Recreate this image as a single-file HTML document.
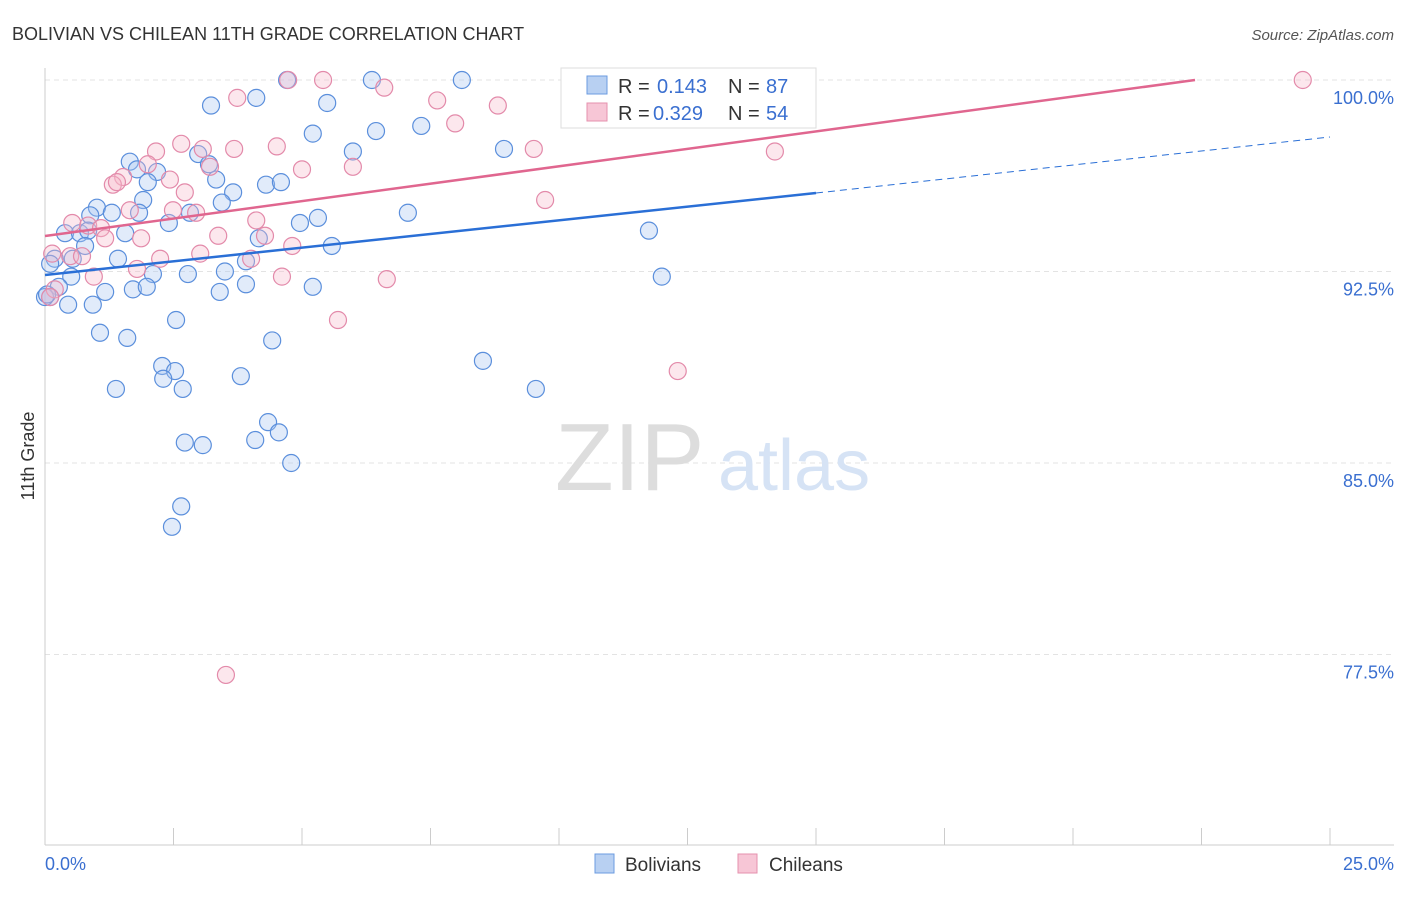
<!DOCTYPE html>
<html><head><meta charset="utf-8"><style>
body{margin:0;background:#fff;font-family:"Liberation Sans",sans-serif;}
svg text{font-family:"Liberation Sans",sans-serif;}
</style></head><body>
<svg id="chart" width="1406" height="892" xmlns="http://www.w3.org/2000/svg">
<text x="12" y="40" font-size="18" fill="#333">BOLIVIAN VS CHILEAN 11TH GRADE CORRELATION CHART</text>
<text x="1394" y="40" font-size="15" fill="#555" font-style="italic" text-anchor="end">Source: ZipAtlas.com</text>
<g id="grid"></g>
<g id="axes"></g>
<text x="555" y="490" font-size="96" fill="#ddd" font-family="Liberation Serif">ZIP</text>
<text x="718" y="490" font-size="72" fill="#d6e3f5">atlas</text>
<g id="pts"></g>
<g id="trends"></g>
<text transform="translate(34,456) rotate(-90)" font-size="18" fill="#333" text-anchor="middle">11th Grade</text>
<text x="45" y="870" font-size="18" fill="#3a6fd0">0.0%</text>
<text x="1394" y="870" font-size="18" fill="#3a6fd0" text-anchor="end">25.0%</text>
<g>
<rect x="561" y="68" width="255" height="60" fill="#fff" stroke="#ddd"/>
<rect x="587" y="76" width="20" height="18" fill="#b8d0f2" stroke="#6b9be0"/>
<text x="618" y="93" font-size="20" fill="#333">R =</text>
<text x="657" y="93" font-size="20" fill="#3a6fd0">0.143</text>
<text x="728" y="93" font-size="20" fill="#333">N =</text>
<text x="766" y="93" font-size="20" fill="#3a6fd0">87</text>
<rect x="587" y="103" width="20" height="18" fill="#f7c6d6" stroke="#e690ae"/>
<text x="618" y="120" font-size="20" fill="#333">R =</text>
<text x="653" y="120" font-size="20" fill="#3a6fd0">0.329</text>
<text x="728" y="120" font-size="20" fill="#333">N =</text>
<text x="766" y="120" font-size="20" fill="#3a6fd0">54</text>
</g>
<g>
<rect x="595" y="854" width="19" height="19" fill="#b8d0f2" stroke="#6b9be0"/>
<text x="625" y="871" font-size="19" fill="#333">Bolivians</text>
<rect x="738" y="854" width="19" height="19" fill="#f7c6d6" stroke="#e690ae"/>
<text x="769" y="871" font-size="19" fill="#333">Chileans</text>
</g>
</svg>
<script>
const yTicks=[100,92.5,85,77.5];
const yTickLabels=["100.0%","92.5%","85.0%","77.5%"];
const xTicks=[0,2.5,5,7.5,10,12.5,15,17.5,20,22.5,25];
const bolX=[4.71,6.36,8.11,3.23,4.11,5.49,5.21,6.44,7.32,8.93,5.99,2.98,1.65,1.79,2.18,2.00,3.19,3.33,3.66,4.30,4.59,3.44,1.91,1.01,0.88,1.30,1.83,2.41,2.82,4.96,5.31,7.06,11.75,0.39,0.68,0.84,1.56,4.16,5.58,0.78,0.19,0.54,1.42,0.10,2.10,2.78,3.50,3.91,0.51,0.27,1.17,1.71,1.98,3.40,3.91,5.21,12.0,0.10,0.45,0.93,2.55,1.07,1.60,4.42,2.28,2.53,2.30,3.81,1.38,2.68,8.52,9.55,4.34,4.55,4.09,2.72,3.07,4.79,2.65,2.47,0.0,0.04];
const bolY=[100,100,100,99.0,99.3,99.1,97.9,98.0,98.2,97.3,97.2,97.1,96.8,96.5,96.4,96.0,96.7,96.1,95.6,95.9,96.0,95.2,95.3,95.0,94.7,94.8,94.8,94.4,94.8,94.4,94.6,94.8,94.1,94.0,94.0,94.1,94.0,93.8,93.5,93.5,93.0,93.0,93.0,92.8,92.4,92.4,92.5,92.9,92.3,91.9,91.7,91.8,91.9,91.7,92.0,91.9,92.3,91.5,91.2,91.2,90.6,90.1,89.9,89.8,88.8,88.6,88.3,88.4,87.9,87.9,89.0,87.9,86.6,86.2,85.9,85.8,85.7,85.0,83.3,82.5,91.5,91.6];
const chiX=[4.73,5.41,13.13,14.09,24.47,6.60,3.74,7.63,8.81,7.98,2.65,3.07,2.16,3.68,4.51,9.51,14.20,3.21,5.00,5.99,2.00,1.52,1.32,2.43,2.72,1.40,9.73,1.65,2.49,2.94,4.11,0.53,0.84,1.09,3.37,1.17,1.87,4.28,4.81,0.14,0.49,0.72,2.24,3.02,4.01,1.79,0.95,4.61,6.65,5.70,12.31,3.52,0.19,0.10];
const chiY=[100,100,100,100,100,99.7,99.3,99.2,99.0,98.3,97.5,97.3,97.2,97.3,97.4,97.3,97.2,96.6,96.5,96.6,96.7,96.2,95.9,96.1,95.6,96.0,95.3,94.9,94.9,94.8,94.5,94.4,94.3,94.2,93.9,93.8,93.8,93.9,93.5,93.2,93.1,93.1,93.0,93.2,93.0,92.6,92.3,92.3,92.2,90.6,88.6,76.7,91.8,91.5];
const X0=45,X1=1330,Y100=80,PX=191.5/7.5;
const sx=v=>X0+v/25*(X1-X0), sy=v=>Y100+(100-v)*PX;
const NS="http://www.w3.org/2000/svg";
function mk(t,a,p){const e=document.createElementNS(NS,t);for(const k in a)e.setAttribute(k,a[k]);p.appendChild(e);return e;}
const grid=document.getElementById('grid'),axes=document.getElementById('axes'),pts=document.getElementById('pts'),tr=document.getElementById('trends');
yTicks.forEach((v,i)=>{
 const l=mk('line',{x1:X0,x2:1394,y1:sy(v),y2:sy(v),stroke:'#e3e3e3','stroke-dasharray':'5,4'},grid);
 
 
 const t=mk('text',{x:1394,y:sy(v)+24,'font-size':18,fill:'#3a6fd0','text-anchor':'end'},grid);
 t.textContent=yTickLabels[i];
 
 
});
const ya=mk('line',{x1:X0,x2:X0,y1:68,y2:845,stroke:'#ccc'},axes);


const xa=mk('line',{x1:X0,x2:1394,y1:845,y2:845,stroke:'#ccc'},axes);


xTicks.forEach(v=>{
 const t=mk('line',{x1:sx(v),x2:sx(v),y1:828,y2:845,stroke:'#ccc'},axes);
 
 
});
function dots(xs,ys,fill,stroke,name){xs.forEach((x,i)=>{
 const c=mk('circle',{cx:sx(x),cy:sy(ys[i]),r:8.5,fill:fill,'fill-opacity':0.35,stroke:stroke,'stroke-width':1.2},pts);
 
 
});}
dots(bolX,bolY,'#a9c6f0','#5b8fdc','bolivian-point');
dots(chiX,chiY,'#f5b9cc','#e38aaa','chilean-point');
const b1=mk('line',{x1:sx(0),y1:275,x2:816,y2:193,stroke:'#2a6fd6','stroke-width':2.5},tr);


const b2=mk('line',{x1:816,y1:193,x2:1330,y2:137,stroke:'#2a6fd6','stroke-width':1,'stroke-dasharray':'7,5'},tr);


const c1=mk('line',{x1:sx(0),y1:236,x2:1195,y2:80,stroke:'#e0668f','stroke-width':2.5},tr);


</script>
</body></html>
